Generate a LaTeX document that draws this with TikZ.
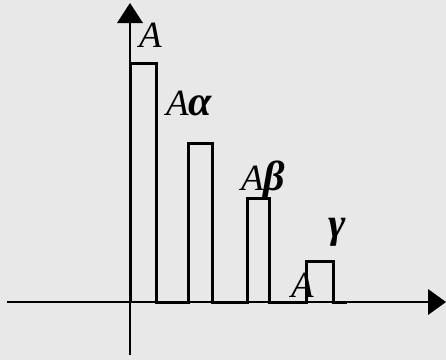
\documentclass[tikz,border=0pt]{standalone}
\usepackage{fontspec}
\setmainfont{Liberation Serif}
\definecolor{bg}{RGB}{233,232,233}
\newcommand{\grk}[1]{{\fontsize{42}{44}\selectfont\bfseries #1}}
\begin{document}
\begin{tikzpicture}[x=1pt,y=-1pt,
  axis/.style={line width=1.8pt,black},
  pulse/.style={line width=3pt,black,line join=miter},
  lbl/.style={anchor=base west,inner sep=0pt,font=\fontsize{37}{40}\selectfont\itshape},
  tip/.style={fill=black,draw=none}]
\fill[bg] (0,0) rectangle (446,360);
\useasboundingbox (0,0) rectangle (446,360);
% axes
\coordinate (o) at (130,302);
\coordinate (xs) at (7,302);
\coordinate (xe) at (429,302);
\coordinate (ys) at (130,355);
\coordinate (ye) at (130,23);
\draw[axis] (xs) -- (xe);
\draw[axis] (ys) -- (ye);
\fill[tip] (446,302) -- (428,289) -- (428,315) -- cycle;
\fill[tip] (130,3) -- (117,23) -- (143,23) -- cycle;
% pulses
\draw[pulse] (130,302) -- (130,63) -- (156,63) -- (156,302) -- (188,302)
  -- (188,143) -- (212,143) -- (212,302) -- (247,302)
  -- (247,198) -- (269,198) -- (269,302) -- (306,302)
  -- (306,261) -- (333,261) -- (333,302) -- (347,302);
% labels
\node[lbl] (la) at (139,47) {A};
\node[lbl] (lalpha) at (166,115) {A\grk{α}};
\node[lbl] (lbeta) at (241,190) {A\grk{β}};
\node[lbl] (lgamma) at (328,237) {\grk{γ}};
\node[lbl] (lA) at (291,297) {A};
\end{tikzpicture}
\end{document}
